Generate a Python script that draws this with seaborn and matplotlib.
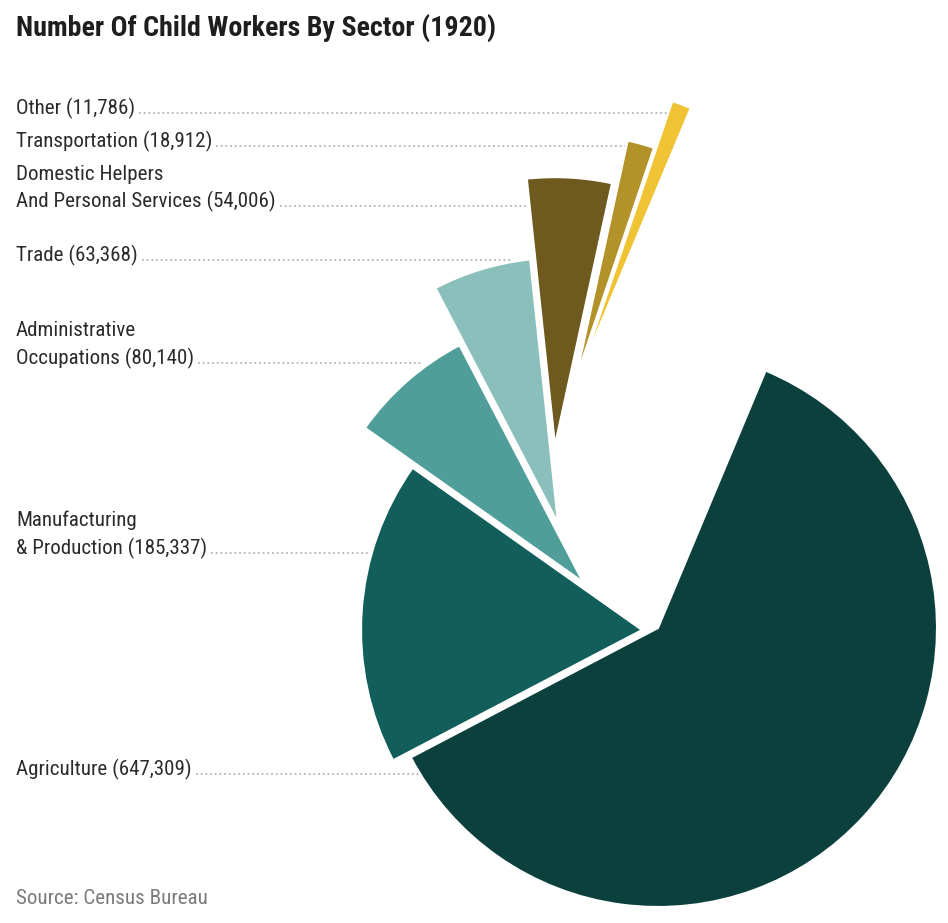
import matplotlib
matplotlib.use("Agg")
import matplotlib.pyplot as plt
import seaborn as sns
from matplotlib import font_manager as fm

# ---------------- data ----------------
categories = [
    "Agriculture",
    "Manufacturing\n& Production",
    "Administrative\nOccupations",
    "Trade",
    "Domestic Helpers\nAnd Personal Services",
    "Transportation",
    "Other",
]
workers = [647309, 185337, 80140, 63368, 54006, 18912, 11786]
colors = ["#0b403d", "#115e5a", "#4f9e99", "#8bbfbb", "#6e5a1e", "#b3922a", "#efc334"]

title = "Number Of Child Workers By Sector (1920)"
source = "Source: Census Bureau"

# ---------------- layout (pixel units, y upward) ----------------
W, H = 948, 923
PIE_CENTER = (658, 295)
PIE_RADIUS = 279
START_ANGLE = 67.3
slice_shift = [(0, 0), (-16, -2), (-75, 46), (-100, 105), (-103, 183), (-82, 250), (-76, 260)]
slice_scale = [1.0, 1.007, 0.957, 0.95, 0.96, 0.871, 1.01]
leader_y = [149, 370, 560, 663, 717, 777, 810]
leader_end = [420, 370, 423, 510, 528, 625, 673]
LEFT = 16
LINE_GAP = 28

sns.set_theme(style="white")

avail = {f.name for f in fm.fontManager.ttflist}
narrow_candidates = ["Liberation Sans Narrow", "Roboto Condensed", "Open Sans Condensed",
                     "DejaVu Sans Condensed", "Roboto", "Liberation Sans", "DejaVu Sans"]
family = [f for f in narrow_candidates if f in avail] + ["DejaVu Sans"]
main_font = family[0]
plt.rcParams["font.family"] = [main_font, "DejaVu Sans"]

fig = plt.figure(figsize=(W / 100, H / 100), dpi=100)
fig.patch.set_facecolor("white")
ax = fig.add_axes([0, 0, 1, 1])

wedges, _ = ax.pie(
    workers,
    colors=colors,
    startangle=START_ANGLE,
    counterclock=False,
    center=PIE_CENTER,
    radius=PIE_RADIUS,
    wedgeprops=dict(edgecolor="white", linewidth=1.5),
)
for w, (dx, dy), s in zip(wedges, slice_shift, slice_scale):
    w.set_center((PIE_CENTER[0] + dx, PIE_CENTER[1] + dy))
    w.set_radius(PIE_RADIUS * s)

ax.set_xlim(0, W)
ax.set_ylim(0, H)
ax.set_aspect("equal")
ax.axis("off")

text_color = "#2b2b2b"
label_objs = []
last_lines = []
for name, val, ly in zip(categories, workers, leader_y):
    lines = name.split("\n")
    lines[-1] = f"{lines[-1]} ({val:,})"
    objs = []
    n = len(lines)
    for i, ln in enumerate(lines):
        yb = ly - 1.5 + (n - 1 - i) * LINE_GAP
        t = ax.text(LEFT, yb, ln, fontsize=14, color=text_color, va="baseline", ha="left")
        objs.append(t)
    label_objs.extend(objs)
    last_lines.append(objs[-1])

src = ax.text(LEFT, 19, source, fontsize=14, color="#7a7a7a", va="baseline", ha="left")
ttl = ax.text(LEFT, 887, title, fontsize=18, color="#1e1e1e", fontweight="bold",
              va="baseline", ha="left")

# fit font sizes to the reference widths
fig.canvas.draw()
r = fig.canvas.get_renderer()
agri_w = last_lines[0].get_window_extent(r).width
lab_size = 14 * 177 / agri_w
lab_size = max(10, min(17, lab_size))
for t in label_objs + [src]:
    t.set_fontsize(lab_size)
ttl_w = ttl.get_window_extent(r).width
ttl.set_fontsize(max(13, min(22, 18 * 481 / ttl_w)))

fig.canvas.draw()
inv = ax.transData.inverted()
for t, ly, xe in zip(last_lines, leader_y, leader_end):
    bb = t.get_window_extent(r)
    x0 = inv.transform((bb.x1, bb.y0))[0] + 4
    ax.plot([x0, xe], [ly, ly], color="#b5b5b5", lw=1.3,
            linestyle=(0, (1, 1.6)), solid_capstyle="butt", zorder=0)

fig.savefig("out.png", dpi=100, facecolor="white")
